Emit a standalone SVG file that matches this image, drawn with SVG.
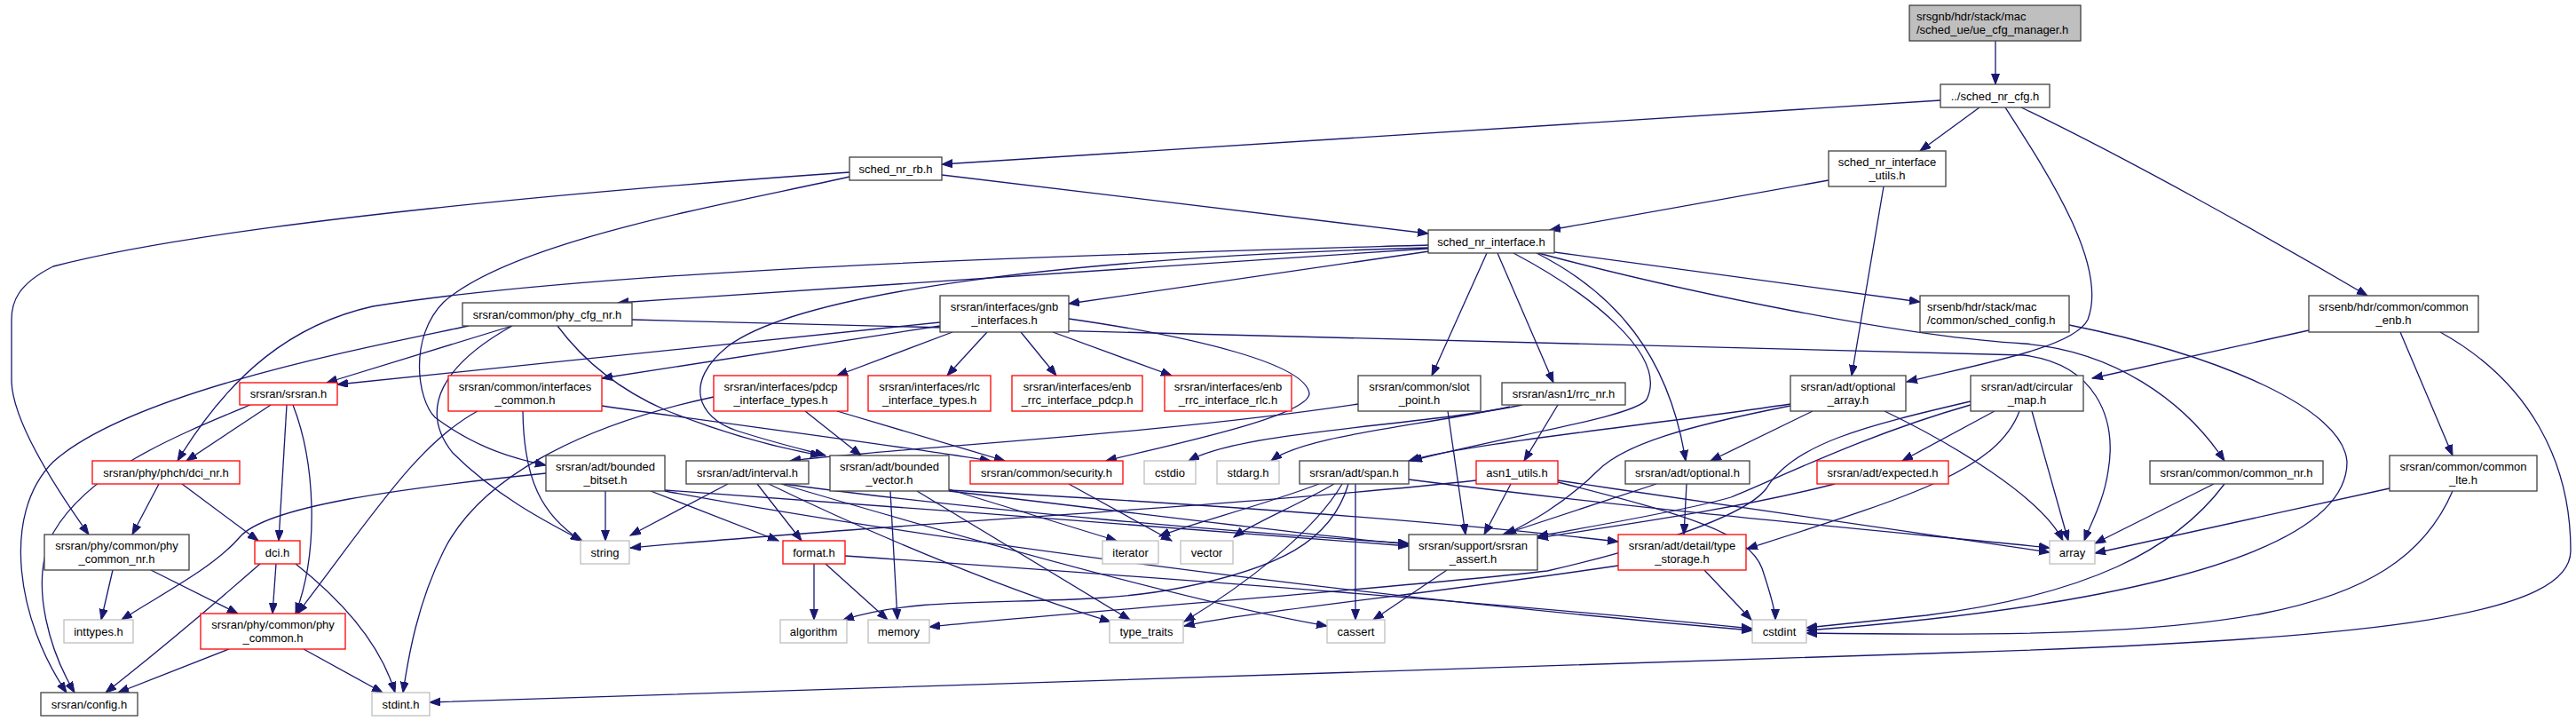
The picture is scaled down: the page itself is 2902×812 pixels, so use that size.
<svg xmlns="http://www.w3.org/2000/svg" width="2902" height="812" viewBox="0 0 2902 812">
<style>
text{font-family:"Liberation Sans",Arial,sans-serif;font-size:13px;fill:#000;text-anchor:middle}
text.l{text-anchor:start}
.node rect{fill:#fff;stroke:#404040;stroke-width:1.3}
.node.red rect{stroke:#ff0000}
.node.sys rect{stroke:#bfbfbf}
.node.root rect{fill:#bfbfbf;stroke:#404040}
#edges path{fill:none;stroke:#191970;stroke-width:1.3;marker-end:url(#arr)}
</style>
<defs>
<marker id="arr" markerUnits="userSpaceOnUse" markerWidth="13" markerHeight="10" refX="12" refY="4.5" orient="auto">
<path d="M0,0 L12,4.5 L0,9 Z" fill="#191970" stroke="#191970" stroke-width="1"/>
</marker>
</defs>
<rect x="0" y="0" width="2902" height="812" fill="#fff"/>
<g id="edges">
<path d="M2248,46 L2248,95"/>
<path d="M2186,113 L1061,185"/>
<path d="M2230,121 L2163,170"/>
<path d="M2259,121 C2310,200 2375,300 2352,360 C2336,392 2230,410 2148,430"/>
<path d="M2277,121 C2400,180 2560,270 2667,333"/>
<path d="M1061,197 L1609,263"/>
<path d="M957,194 C700,212 250,250 60,300 C20,320 13,340 13,360 L13,430 C15,480 70,560 100,602"/>
<path d="M957,199 C820,230 580,270 500,340 C460,380 470,450 490,470 C530,500 570,515 615,524"/>
<path d="M2060,203 L1746,259"/>
<path d="M2122,210 L2086,423"/>
<path d="M1609,280 L696,341"/>
<path d="M1610,283 L1204,342"/>
<path d="M1609,276 C1300,285 700,300 420,345 C330,365 260,420 200,519"/>
<path d="M1609,279 C1200,290 900,330 820,390 C770,430 785,470 830,485 C870,498 900,505 930,513"/>
<path d="M1675,285 L1613,423"/>
<path d="M1687,285 L1750,431"/>
<path d="M1705,285 C1790,330 1880,400 1855,450 C1840,470 1700,490 1590,519"/>
<path d="M1731,285 C1820,330 1880,400 1899,519"/>
<path d="M1751,284 L2163,340"/>
<path d="M1733,285 C1900,330 2150,380 2280,387 C2380,395 2460,450 2506,519"/>
<path d="M712,360 C1400,375 2000,388 2280,400 C2360,410 2385,470 2375,530 C2370,565 2355,590 2348,609"/>
<path d="M577,367 L368,431"/>
<path d="M528,367 C420,390 150,440 60,520 C0,580 20,700 75,780"/>
<path d="M577,367 C500,410 470,460 510,510 C560,560 620,590 656,609"/>
<path d="M628,367 C660,410 700,440 750,462 C820,490 880,505 925,513"/>
<path d="M1059,363 L380,433"/>
<path d="M1059,367 L678,426"/>
<path d="M1073,374 L943,423"/>
<path d="M1112,374 L1067,423"/>
<path d="M1150,374 L1190,423"/>
<path d="M1186,374 L1320,423"/>
<path d="M1204,359 C1350,380 1470,410 1475,443 C1475,470 1300,505 1246,519"/>
<path d="M2331,366 C2500,400 2640,460 2644,520 C2645,640 2300,690 2035,710"/>
<path d="M2601,372 L2357,426"/>
<path d="M2704,374 L2763,513"/>
<path d="M2749,374 C2850,430 2896,520 2896,620 C2896,690 2700,720 2200,735 L484,791"/>
<path d="M282,456 C200,490 100,530 60,600 C30,660 60,740 84,780"/>
<path d="M305,456 L210,519"/>
<path d="M323,456 L314,609"/>
<path d="M330,456 C355,520 360,620 333,691"/>
<path d="M589,463 C590,540 610,580 655,609"/>
<path d="M538,463 C470,500 420,580 335,691"/>
<path d="M678,457 C800,475 1000,500 1116,519"/>
<path d="M907,463 L970,513"/>
<path d="M943,463 L1132,519"/>
<path d="M804,447 C650,480 540,540 500,620 C470,680 460,740 454,780"/>
<path d="M1530,455 C1300,490 1000,505 890,519"/>
<path d="M1631,463 L1651,602"/>
<path d="M1755,456 L1717,519"/>
<path d="M1715,456 C1600,480 1400,485 1339,519"/>
<path d="M1701,458 C1600,480 1470,490 1432,519"/>
<path d="M2042,463 L1927,519"/>
<path d="M2017,455 C1850,480 1650,500 1587,519"/>
<path d="M2017,457 C1900,480 1830,500 1800,530 C1760,570 1720,590 1696,602"/>
<path d="M2123,463 C2200,500 2300,560 2324,609"/>
<path d="M2247,463 L2143,519"/>
<path d="M2220,456 C2100,490 2000,540 1950,560 C1900,575 1780,595 1732,604"/>
<path d="M2275,463 C2250,530 2150,560 1968,618"/>
<path d="M2289,463 L2330,609"/>
<path d="M2220,452 C2100,480 2020,500 1990,550 C1960,590 1800,630 1743,643 C1600,660 1200,690 1047,706"/>
<path d="M2067,545 C1950,575 1800,595 1732,606"/>
<path d="M1486,545 C1420,570 1340,590 1306,604"/>
<path d="M1503,545 C1460,570 1410,590 1390,605"/>
<path d="M1512,545 C1480,600 1400,660 1334,700"/>
<path d="M1519,545 C1500,610 1440,640 1330,662 C1200,688 1050,665 950,698"/>
<path d="M1527,545 L1527,698"/>
<path d="M1587,540 C1900,580 2200,605 2309,617"/>
<path d="M1702,545 L1672,602"/>
<path d="M1663,541 C1400,570 1000,590 710,617"/>
<path d="M1755,541 C1950,570 2150,600 2309,622"/>
<path d="M1755,543 C1900,580 1970,600 1985,640 C1995,670 2000,690 2000,698"/>
<path d="M1866,545 L1693,602"/>
<path d="M1900,545 L1897,602"/>
<path d="M1630,642 L1547,698"/>
<path d="M1920,642 L1973,698"/>
<path d="M1823,637 C1600,670 1400,690 1334,705"/>
<path d="M1204,545 L1320,609"/>
<path d="M2494,545 L2360,612"/>
<path d="M2506,545 C2450,620 2350,670 2170,693 L2035,707"/>
<path d="M2692,550 L2360,623"/>
<path d="M2763,553 C2700,700 2500,720 2035,713"/>
<path d="M682,553 L682,609"/>
<path d="M733,553 L877,609"/>
<path d="M615,533 C450,550 300,570 270,605 C240,640 180,670 137,698"/>
<path d="M749,552 C1000,570 1400,600 1587,615"/>
<path d="M749,553 C1000,600 1500,670 1974,710"/>
<path d="M820,545 L710,603"/>
<path d="M853,545 L903,609"/>
<path d="M866,545 C1000,610 1150,670 1251,700"/>
<path d="M880,545 C1100,610 1350,680 1495,705"/>
<path d="M883,545 C1100,575 1400,600 1587,612"/>
<path d="M1003,553 L1011,698"/>
<path d="M1033,553 L1273,698"/>
<path d="M1069,551 L1258,609"/>
<path d="M1069,553 C1300,580 1450,600 1587,613"/>
<path d="M1069,552 C1400,570 1650,590 1823,610"/>
<path d="M917,635 L917,698"/>
<path d="M930,635 L1000,698"/>
<path d="M952,626 C1300,650 1700,680 1974,708"/>
<path d="M179,545 L149,602"/>
<path d="M205,545 L291,609"/>
<path d="M127,642 L114,698"/>
<path d="M170,642 L268,691"/>
<path d="M293,635 C230,690 170,740 119,780"/>
<path d="M311,635 L307,691"/>
<path d="M333,635 C390,680 430,730 445,780"/>
<path d="M258,731 L133,780"/>
<path d="M342,731 L431,780"/>
</g>
<g id="n0" class="node root"><rect x="2151" y="6" width="193" height="40"/><text class="l" x="2159" y="22.5">srsgnb/hdr/stack/mac</text><text class="l" x="2159" y="37.5">/sched_ue/ue_cfg_manager.h</text></g>
<g id="n1" class="node"><rect x="2186" y="95" width="123" height="26"/><text x="2247.5" y="112.5">../sched_nr_cfg.h</text></g>
<g id="n2" class="node"><rect x="957" y="177" width="104" height="26"/><text x="1009" y="194.5">sched_nr_rb.h</text></g>
<g id="n3" class="node"><rect x="2060" y="170" width="132" height="40"/><text x="2126" y="186.5">sched_nr_interface</text><text x="2126" y="201.5">_utils.h</text></g>
<g id="n4" class="node"><rect x="1609" y="259" width="142" height="26"/><text x="1680" y="276.5">sched_nr_interface.h</text></g>
<g id="n5" class="node"><rect x="521" y="341" width="191" height="26"/><text x="616.5" y="358.5">srsran/common/phy_cfg_nr.h</text></g>
<g id="n6" class="node"><rect x="1059" y="333" width="145" height="41"/><text x="1131.5" y="350">srsran/interfaces/gnb</text><text x="1131.5" y="365">_interfaces.h</text></g>
<g id="n7" class="node"><rect x="2163" y="333" width="168" height="41"/><text class="l" x="2171" y="350">srsenb/hdr/stack/mac</text><text class="l" x="2171" y="365">/common/sched_config.h</text></g>
<g id="n8" class="node"><rect x="2601" y="333" width="191" height="41"/><text x="2696.5" y="350">srsenb/hdr/common/common</text><text x="2696.5" y="365">_enb.h</text></g>
<g id="n9" class="node red"><rect x="270" y="431" width="110" height="25"/><text x="325" y="448">srsran/srsran.h</text></g>
<g id="n10" class="node red"><rect x="505" y="423" width="173" height="40"/><text x="591.5" y="439.5">srsran/common/interfaces</text><text x="591.5" y="454.5">_common.h</text></g>
<g id="n11" class="node red"><rect x="804" y="423" width="151" height="40"/><text x="879.5" y="439.5">srsran/interfaces/pdcp</text><text x="879.5" y="454.5">_interface_types.h</text></g>
<g id="n12" class="node red"><rect x="978" y="423" width="138" height="40"/><text x="1047" y="439.5">srsran/interfaces/rlc</text><text x="1047" y="454.5">_interface_types.h</text></g>
<g id="n13" class="node red"><rect x="1140" y="423" width="147" height="40"/><text x="1213.5" y="439.5">srsran/interfaces/enb</text><text x="1213.5" y="454.5">_rrc_interface_pdcp.h</text></g>
<g id="n14" class="node red"><rect x="1312" y="423" width="143" height="40"/><text x="1383.5" y="439.5">srsran/interfaces/enb</text><text x="1383.5" y="454.5">_rrc_interface_rlc.h</text></g>
<g id="n15" class="node"><rect x="1530" y="423" width="138" height="40"/><text x="1599" y="439.5">srsran/common/slot</text><text x="1599" y="454.5">_point.h</text></g>
<g id="n16" class="node"><rect x="1692" y="431" width="139" height="25"/><text x="1761.5" y="448">srsran/asn1/rrc_nr.h</text></g>
<g id="n17" class="node"><rect x="2017" y="423" width="130" height="40"/><text x="2082" y="439.5">srsran/adt/optional</text><text x="2082" y="454.5">_array.h</text></g>
<g id="n18" class="node"><rect x="2220" y="423" width="127" height="40"/><text x="2283.5" y="439.5">srsran/adt/circular</text><text x="2283.5" y="454.5">_map.h</text></g>
<g id="n19" class="node red"><rect x="104" y="519" width="166" height="26"/><text x="187" y="536.5">srsran/phy/phch/dci_nr.h</text></g>
<g id="n20" class="node"><rect x="615" y="513" width="134" height="40"/><text x="682" y="529.5">srsran/adt/bounded</text><text x="682" y="544.5">_bitset.h</text></g>
<g id="n21" class="node"><rect x="773" y="519" width="138" height="26"/><text x="842" y="536.5">srsran/adt/interval.h</text></g>
<g id="n22" class="node"><rect x="935" y="513" width="134" height="40"/><text x="1002" y="529.5">srsran/adt/bounded</text><text x="1002" y="544.5">_vector.h</text></g>
<g id="n23" class="node red"><rect x="1093" y="519" width="172" height="26"/><text x="1179" y="536.5">srsran/common/security.h</text></g>
<g id="n24" class="node sys"><rect x="1289" y="519" width="58" height="26"/><text x="1318" y="536.5">cstdio</text></g>
<g id="n25" class="node sys"><rect x="1371" y="519" width="70" height="26"/><text x="1406" y="536.5">stdarg.h</text></g>
<g id="n26" class="node"><rect x="1464" y="519" width="123" height="26"/><text x="1525.5" y="536.5">srsran/adt/span.h</text></g>
<g id="n27" class="node red"><rect x="1663" y="519" width="92" height="26"/><text x="1709" y="536.5">asn1_utils.h</text></g>
<g id="n28" class="node"><rect x="1831" y="519" width="140" height="26"/><text x="1901" y="536.5">srsran/adt/optional.h</text></g>
<g id="n29" class="node red"><rect x="2047" y="519" width="148" height="26"/><text x="2121" y="536.5">srsran/adt/expected.h</text></g>
<g id="n30" class="node"><rect x="2422" y="519" width="195" height="26"/><text x="2519.5" y="536.5">srsran/common/common_nr.h</text></g>
<g id="n31" class="node"><rect x="2692" y="513" width="166" height="40"/><text x="2775" y="529.5">srsran/common/common</text><text x="2775" y="544.5">_lte.h</text></g>
<g id="n32" class="node"><rect x="50" y="602" width="163" height="40"/><text x="131.5" y="618.5">srsran/phy/common/phy</text><text x="131.5" y="633.5">_common_nr.h</text></g>
<g id="n33" class="node red"><rect x="287" y="609" width="51" height="26"/><text x="312.5" y="626.5">dci.h</text></g>
<g id="n34" class="node sys"><rect x="654" y="609" width="55" height="26"/><text x="681.5" y="626.5">string</text></g>
<g id="n35" class="node red"><rect x="882" y="609" width="70" height="26"/><text x="917" y="626.5">format.h</text></g>
<g id="n36" class="node sys"><rect x="1242" y="609" width="63" height="26"/><text x="1273.5" y="626.5">iterator</text></g>
<g id="n37" class="node sys"><rect x="1330" y="609" width="59" height="26"/><text x="1359.5" y="626.5">vector</text></g>
<g id="n38" class="node"><rect x="1587" y="602" width="145" height="40"/><text x="1659.5" y="618.5">srsran/support/srsran</text><text x="1659.5" y="633.5">_assert.h</text></g>
<g id="n39" class="node red"><rect x="1823" y="602" width="144" height="40"/><text x="1895" y="618.5">srsran/adt/detail/type</text><text x="1895" y="633.5">_storage.h</text></g>
<g id="n40" class="node sys"><rect x="2309" y="609" width="51" height="26"/><text x="2334.5" y="626.5">array</text></g>
<g id="n41" class="node sys"><rect x="72" y="698" width="78" height="26"/><text x="111" y="715.5">inttypes.h</text></g>
<g id="n42" class="node red"><rect x="226" y="691" width="163" height="40"/><text x="307.5" y="707.5">srsran/phy/common/phy</text><text x="307.5" y="722.5">_common.h</text></g>
<g id="n43" class="node sys"><rect x="879" y="698" width="75" height="26"/><text x="916.5" y="715.5">algorithm</text></g>
<g id="n44" class="node sys"><rect x="978" y="698" width="69" height="26"/><text x="1012.5" y="715.5">memory</text></g>
<g id="n45" class="node sys"><rect x="1250" y="698" width="83" height="26"/><text x="1291.5" y="715.5">type_traits</text></g>
<g id="n46" class="node sys"><rect x="1495" y="698" width="65" height="26"/><text x="1527.5" y="715.5">cassert</text></g>
<g id="n47" class="node sys"><rect x="1974" y="698" width="61" height="26"/><text x="2004.5" y="715.5">cstdint</text></g>
<g id="n48" class="node"><rect x="46" y="780" width="109" height="26"/><text x="100.5" y="797.5">srsran/config.h</text></g>
<g id="n49" class="node sys"><rect x="419" y="780" width="65" height="26"/><text x="451.5" y="797.5">stdint.h</text></g>
</svg>
